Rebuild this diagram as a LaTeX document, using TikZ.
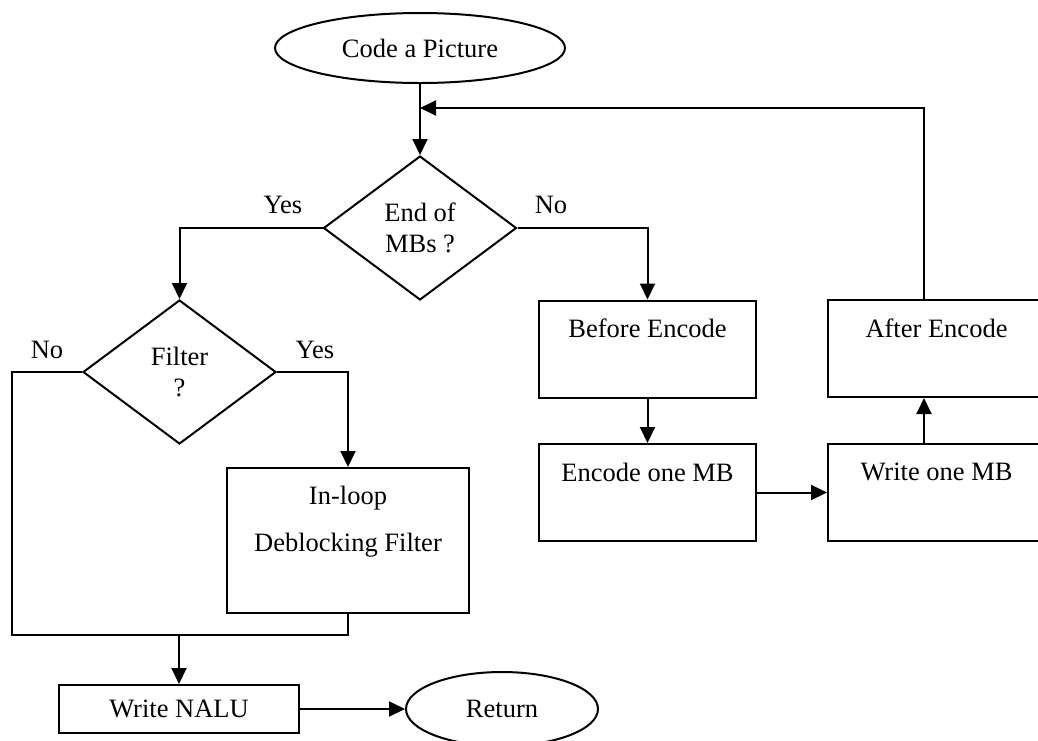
\documentclass[tikz,border=0pt]{standalone}
\usepackage{fontspec}
\setmainfont{Liberation Serif}
\usetikzlibrary{shapes.geometric,arrows.meta}

\begin{document}
\begin{tikzpicture}[x=1pt,y=-1pt,
  line width=2pt,
  every node/.style={font=\fontsize{26.5}{31}\selectfont},
  flow/.style={-{Triangle[length=16pt,width=15pt]}},
  procbox/.style={draw, rectangle, inner sep=0pt, minimum width=217pt,
    text height=37pt, text depth=60pt},
  decision/.style={draw, diamond, aspect=1.333, inner sep=0pt,
    minimum width=193pt, minimum height=144pt, align=center},
  terminal/.style={draw, ellipse, inner sep=0pt},
  branch/.style={inner sep=0pt}
]
\useasboundingbox (0,0) rectangle (1038,740);
\clip (0,0) rectangle (1038,740);

% terminals
\node[terminal, minimum width=290pt, minimum height=70pt] (start) at (420,48) {Code a Picture};
\node[terminal, minimum width=192pt, minimum height=74pt] (ret) at (502,709) {Return};

% decisions
\node[decision] (mbs) at (420,228) {End of\\MBs ?};
\node[decision] (flt) at (179.5,372) {Filter\\?};

% macroblock loop
\node[procbox] (be) at (647.5,349) {Before Encode};
\node[procbox] (eo) at (647.5,492.5) {Encode one MB};
\node[procbox] (wo) at (936.5,492) {Write one MB};
\node[procbox] (ae) at (936.5,348.5) {After Encode};

% filtering and output
\node[draw, rectangle, inner sep=0pt, minimum width=242pt, align=center,
  font=\fontsize{26.5}{47}\selectfont, text height=83pt, text depth=62pt]
  (dbf) at (348,540.5) {In-loop\\Deblocking Filter};
\node[draw, rectangle, inner sep=0pt, minimum width=240pt, minimum height=48pt]
  (nalu) at (179,709) {Write NALU};

% branch labels
\node[branch] (yes1) at (283,205) {Yes};
\node[branch] (no1) at (551,205) {No};
\node[branch] (no2) at (47,350) {No};
\node[branch] (yes2) at (315,350) {Yes};

% helper points
\coordinate (join) at (420,108);
\coordinate (mergeL) at (12,635);
\coordinate (mergeR) at (dbf.south |- mergeL);
\coordinate (mergeM) at (nalu.north |- mergeL);

% connectors
\draw[flow] (start.south) -- (mbs.north);
\draw[flow] ([xshift=-12.5pt]ae.north) |- (join);
\draw[flow] (mbs.east) -| (be.north);
\draw[flow] (mbs.west) -| (flt.north);
\draw[flow] (be.south) -- (eo.north);
\draw[flow] (eo.east) -- (eo.east -| wo.west);
\draw[flow] ([xshift=-12.5pt]wo.north) -- ([xshift=-12.5pt]ae.south);
\draw[flow] (flt.east) -| (dbf.north);
\draw (flt.west) -| (mergeL) -- (mergeR) -- (dbf.south);
\draw[flow] (mergeM) -- (nalu.north);
\draw[flow] (nalu.east) -- (ret.west);
\end{tikzpicture}
\end{document}
